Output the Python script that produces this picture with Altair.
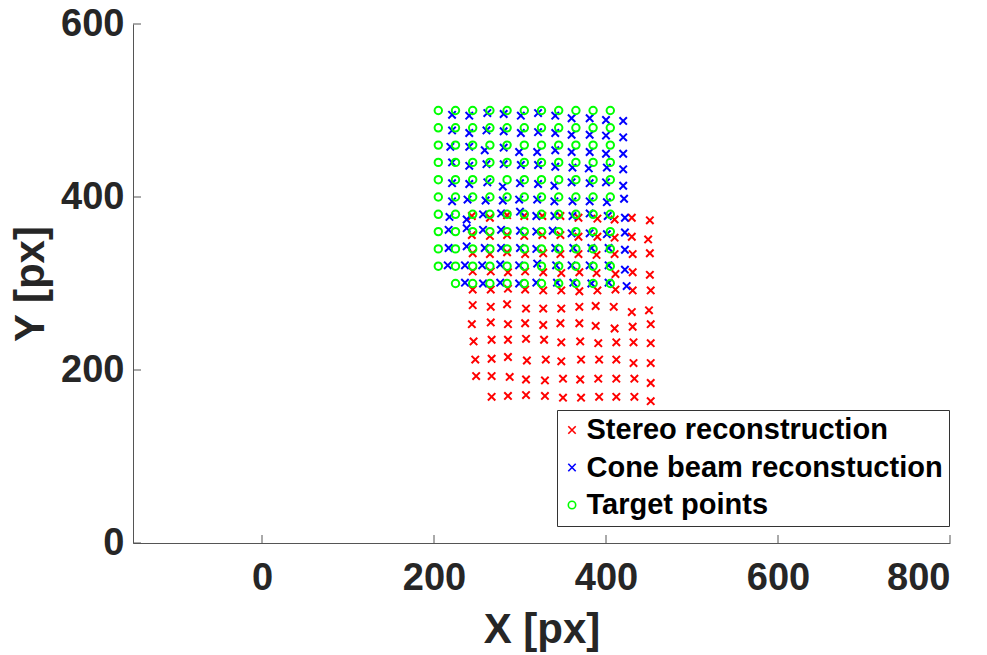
import altair as alt
import pandas as pd

# ---------------- data ----------------
series_names = ["Stereo reconstruction", "Cone beam reconstuction", "Target points"]
series_colors = ["#ff0000", "#0000ff", "#00ff00"]

stereo_x = [
    [244, 265, 285, 305, 326, 347, 368, 390, 410, 430, 451],
    [244, 265, 285, 305, 326, 347, 368, 390, 410, 430, 449],
    [245, 265, 285, 306, 327, 347, 368, 389, 410, 431, 451],
    [245, 266, 286, 306, 327, 348, 369, 389, 411, 431, 451],
    [245, 266, 286, 306, 327, 348, 369, 390, 411, 431, 452],
    [245, 266, 285, 307, 327, 348, 369, 388, 409, 430, 450],
    [244, 266, 286, 306, 327, 347, 369, 388, 410, 431, 452],
    [246, 267, 286, 307, 328, 348, 370, 391, 412, 432, 452],
    [248, 267, 286, 308, 330, 348, 371, 392, 412, 432, 452],
    [249, 267, 288, 307, 329, 350, 370, 391, 412, 433, 452],
    [267, 286, 307, 329, 350, 371, 392, 412, 433, 452],
]
stereo_y = [
    [378, 376, 379, 378, 378, 378, 376, 375, 374, 376, 373],
    [356, 355, 356, 355, 356, 356, 354, 354, 353, 354, 351],
    [335, 334, 336, 334, 335, 334, 334, 333, 334, 334, 335],
    [314, 314, 313, 314, 313, 312, 313, 312, 311, 313, 310],
    [293, 293, 294, 293, 292, 292, 291, 292, 293, 292, 292],
    [275, 273, 276, 271, 271, 271, 273, 274, 273, 267, 269],
    [253, 255, 253, 254, 252, 254, 254, 251, 248, 250, 253],
    [233, 235, 235, 236, 235, 232, 233, 231, 232, 232, 231],
    [212, 213, 215, 211, 212, 210, 212, 212, 212, 208, 208],
    [193, 193, 192, 189, 188, 190, 189, 190, 190, 190, 185],
    [169, 170, 171, 170, 168, 168, 169, 169, 169, 164],
]

cone_x = [
    [221, 241, 262, 281, 301, 321, 341, 360, 381, 400, 420],
    [221, 241, 261, 281, 301, 321, 341, 360, 381, 400, 420],
    [219, 241, 259, 281, 299, 320, 341, 360, 381, 400, 420],
    [221, 241, 261, 281, 301, 321, 341, 361, 380, 401, 420],
    [221, 241, 262, 280, 300, 321, 340, 360, 381, 400, 420],
    [221, 239, 260, 280, 299, 320, 340, 361, 381, 401, 421],
    [218, 238, 257, 278, 300, 319, 340, 361, 381, 402, 422],
    [217, 238, 257, 278, 300, 319, 338, 360, 381, 401, 422],
    [217, 238, 259, 278, 300, 319, 341, 362, 383, 403, 422],
    [216, 236, 256, 277, 299, 320, 342, 360, 381, 403, 422],
    [236, 257, 277, 299, 319, 343, 362, 383, 403, 424],
]
cone_y = [
    [495, 494, 497, 496, 494, 497, 494, 491, 491, 489, 488],
    [477, 474, 477, 476, 474, 475, 474, 472, 472, 471, 469],
    [458, 458, 454, 457, 452, 452, 454, 452, 452, 450, 450],
    [440, 436, 438, 438, 437, 437, 435, 434, 433, 434, 432],
    [416, 415, 417, 412, 416, 415, 413, 417, 416, 417, 413],
    [395, 397, 396, 396, 397, 397, 395, 395, 395, 394, 398],
    [377, 374, 380, 381, 383, 378, 378, 378, 381, 378, 376],
    [362, 364, 362, 362, 361, 360, 361, 358, 358, 357, 359],
    [341, 343, 341, 341, 341, 340, 341, 341, 341, 341, 339],
    [321, 321, 321, 322, 321, 323, 321, 321, 321, 321, 316],
    [301, 300, 301, 300, 301, 301, 301, 300, 301, 297],
]

target_cols = [205, 225, 245, 265, 285, 305, 325, 345, 365, 385, 405]
target_rows = [500, 480, 460, 440, 420, 400, 380, 360, 340, 320, 300]
target_missing = [(205, 300)]

x_ticks = [0, 200, 400, 600, 800]
y_ticks = [0, 200, 400, 600]

# ---------------- build table ----------------
records = []
for xs, ys in zip(stereo_x, stereo_y):
    for a, b in zip(xs, ys):
        records.append({"x": a, "y": b, "series": series_names[0]})
for xs, ys in zip(cone_x, cone_y):
    for a, b in zip(xs, ys):
        records.append({"x": a, "y": b, "series": series_names[1]})
for b in target_rows:
    for a in target_cols:
        if (a, b) not in target_missing:
            records.append({"x": a, "y": b, "series": series_names[2]})
df = pd.DataFrame(records)
df["order"] = df["series"].map({n: i for i, n in enumerate(series_names)})

FONT = "Liberation Sans"
XPATH = "M-1,-1L1,1M-1,1L1,-1"

xscale = alt.Scale(domain=[-150, 800], nice=False, zero=False)
yscale = alt.Scale(domain=[0, 600], nice=False, zero=False)

legend_kw = dict(title=None, orient="none", legendX=424, legendY=386, direction="vertical")

points = alt.Chart(df).mark_point(filled=False, strokeWidth=2, size=60, opacity=1).encode(
    x=alt.X("x:Q", scale=xscale,
            axis=alt.Axis(values=x_ticks, title="X [px]", tickSize=0, labelPadding=16,
                          titlePadding=12, grid=False)),
    y=alt.Y("y:Q", scale=yscale,
            axis=alt.Axis(values=y_ticks, title="Y [px]", tickSize=0, labelPadding=9,
                          titlePadding=8, grid=False)),
    color=alt.Color("series:N",
                    scale=alt.Scale(domain=series_names, range=series_colors),
                    legend=alt.Legend(**legend_kw)),
    shape=alt.Shape("series:N",
                    scale=alt.Scale(domain=series_names, range=[XPATH, XPATH, "circle"]),
                    legend=alt.Legend(**legend_kw)),
    size=alt.Size("series:N",
                  scale=alt.Scale(domain=series_names, range=[55, 55, 115]),
                  legend=None),
    order=alt.Order("order:Q"),
)

xtick_df = pd.DataFrame({"v": x_ticks})
ytick_df = pd.DataFrame({"v": y_ticks})

xt = alt.Chart(xtick_df).mark_rule(color="#555555", strokeWidth=1).encode(
    x=alt.X("v:Q", scale=xscale), y=alt.value(519), y2=alt.value(511))
yt = alt.Chart(ytick_df).mark_rule(color="#555555", strokeWidth=1).encode(
    y=alt.Y("v:Q", scale=yscale), x=alt.value(0), x2=alt.value(8))

chart = alt.layer(points, xt, yt).properties(
    width=817, height=519,
    padding={"left": 133, "top": 24, "right": 37, "bottom": 112},
    autosize=alt.AutoSizeParams(type="none"),
    background="white",
).configure_view(stroke=None).configure_axis(
    domainColor="#555555", domainWidth=1,
    labelFont=FONT, labelFontWeight="bold", labelFontSize=38, labelColor="#262626",
    titleFont=FONT, titleFontWeight="bold", titleFontSize=42, titleColor="#262626",
).configure_legend(
    labelFont=FONT, labelFontWeight="bold", labelFontSize=29, labelColor="#000000",
    symbolSize=30, symbolStrokeWidth=1.6, rowPadding=7.5, padding=5.5, labelOffset=0,
    symbolOffset=-5,
    strokeColor="#333333", fillColor="white", cornerRadius=0, labelLimit=600,
)

chart.save("out.html", embed_options={"renderer": "svg", "actions": False})
